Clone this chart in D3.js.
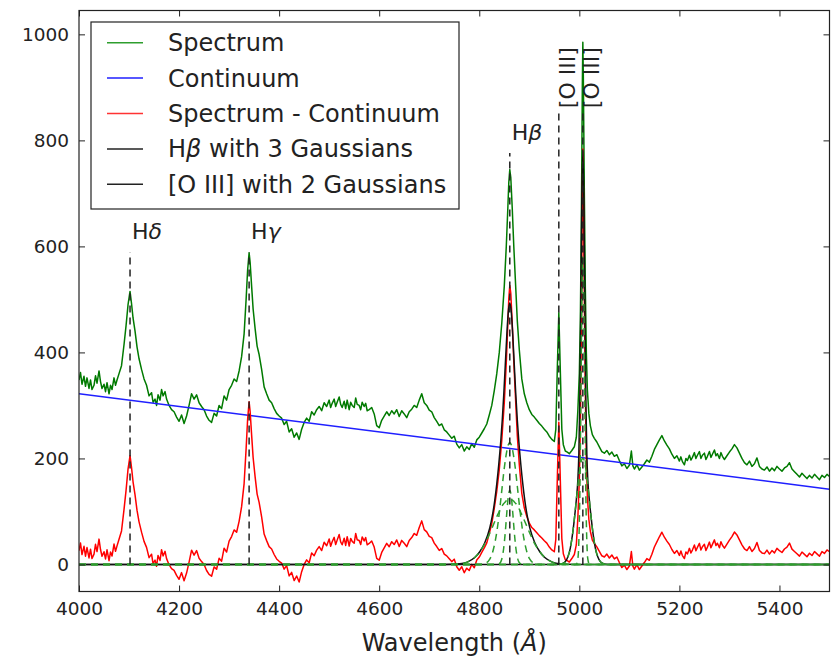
<!DOCTYPE html>
<html lang="en">
<head>
<meta charset="UTF-8">
<title>Spectrum and line fits</title>
<script src="https://d3js.org/d3.v7.min.js"></script>
<style>
    body { margin: 0; background: #fff; font-family: "DejaVu Sans", sans-serif; }
    .axis text { font-size: 18.5px; fill: #222; font-family: "DejaVu Sans", sans-serif; }
    .axis line { stroke: #222; stroke-width: 1; }
    .axis path { display: none; }
    .frame { fill: none; stroke: #222; stroke-width: 1.2; }
    .curve { fill: none; stroke-width: 1.5; stroke-linejoin: round; }
    .marker { stroke: #222; stroke-width: 1.5; stroke-dasharray: 7,5; }
    .legend text { font-size: 24px; fill: #222; }
    .linelabel { font-size: 22px; fill: #222; }
</style>
</head>
<body>
<div id="chart"></div>
<script>
// observed spectrum, [wavelength (A), flux]
const spectrum = [
    [4000,348],[4003,362],[4006,340],[4010,355],[4013,336],[4016,352],[4020,332],[4023,348],[4026,330],[4030,338],
    [4033,356],[4036,342],[4040,365],[4043,345],[4046,332],[4050,340],[4053,326],[4056,343],[4060,322],[4063,338],
    [4066,330],[4070,352],[4073,338],[4076,348],[4080,360],[4085,375],[4090,415],[4094,450],[4098,490],[4102,515],
    [4105,492],[4108,465],[4112,440],[4116,410],[4120,388],[4125,368],[4130,350],[4135,338],[4140,318],[4145,324],
    [4148,306],[4152,312],[4155,300],[4158,320],[4162,310],[4165,330],[4168,318],[4172,326],[4175,312],[4180,300],
    [4185,292],[4190,288],[4195,278],[4200,270],[4205,282],[4210,266],[4215,280],[4220,300],[4225,322],[4230,312],
    [4235,320],[4240,305],[4245,298],[4250,292],[4255,280],[4260,272],[4265,268],[4270,285],[4275,280],[4280,300],
    [4285,294],[4290,318],[4295,310],[4300,330],[4305,338],[4310,350],[4315,345],[4320,365],[4325,392],[4330,435],
    [4334,500],[4337,555],[4340,588],[4342,570],[4345,525],[4348,482],[4352,445],[4356,412],[4360,396],[4365,368],
    [4370,335],[4375,322],[4380,310],[4385,305],[4390,294],[4395,285],[4400,280],[4405,276],[4410,264],[4415,270],
    [4420,250],[4425,256],[4430,240],[4435,248],[4440,236],[4445,255],[4450,268],[4455,276],[4460,270],[4465,288],
    [4470,282],[4475,292],[4480,298],[4485,290],[4490,305],[4495,298],[4500,310],[4503,296],[4506,304],[4510,312],
    [4513,298],[4516,306],[4520,316],[4523,302],[4526,296],[4530,308],[4533,294],[4536,310],[4540,292],[4543,306],
    [4546,300],[4550,296],[4553,314],[4556,302],[4560,300],[4563,292],[4566,306],[4570,298],[4573,304],[4576,290],
    [4580,292],[4585,296],[4590,284],[4595,262],[4600,258],[4605,272],[4610,280],[4615,288],[4620,281],[4625,290],
    [4630,284],[4635,292],[4640,279],[4645,290],[4650,284],[4655,277],[4660,288],[4665,293],[4670,300],[4675,296],
    [4680,310],[4685,322],[4690,305],[4695,300],[4700,291],[4705,288],[4710,277],[4715,270],[4720,262],[4725,265],
    [4730,254],[4735,250],[4740,244],[4745,238],[4750,242],[4755,227],[4760,220],[4765,226],[4770,214],[4775,222],
    [4780,217],[4785,228],[4790,221],[4795,235],[4800,240],[4805,248],[4810,256],[4815,265],[4820,282],[4825,300],
    [4830,328],[4835,360],[4840,400],[4845,455],[4850,525],[4854,600],[4857,670],[4859,720],[4861,745],[4863,730],
    [4866,670],[4869,600],[4872,540],[4876,460],[4880,405],[4885,350],[4890,322],[4895,305],[4900,292],[4905,283],
    [4910,278],[4915,272],[4920,266],[4925,261],[4930,255],[4935,250],[4940,242],[4945,236],[4950,232],[4953,255],
    [4956,370],[4959,475],[4962,365],[4965,255],[4968,226],[4972,214],[4976,212],[4980,209],[4985,215],[4990,222],
    [4994,240],[4997,290],[5000,360],[5002,460],[5004,640],[5006,900],[5007,985],[5008,920],[5010,700],[5012,520],
    [5014,400],[5016,330],[5019,285],[5022,262],[5026,245],[5030,238],[5035,231],[5040,222],[5045,213],[5050,210],
    [5055,215],[5060,207],[5065,212],[5070,204],[5075,207],[5080,196],[5085,186],[5090,190],[5095,181],[5100,187],
    [5104,214],[5107,186],[5110,180],[5115,188],[5120,178],[5125,184],[5130,190],[5135,197],[5140,193],[5145,204],
    [5150,217],[5155,226],[5160,235],[5165,243],[5170,233],[5175,225],[5180,218],[5185,208],[5190,200],[5195,205],
    [5200,195],[5203,203],[5206,194],[5210,188],[5213,200],[5216,196],[5220,206],[5223,197],[5226,202],[5230,211],
    [5233,200],[5236,206],[5240,213],[5243,200],[5246,206],[5250,210],[5253,198],[5256,204],[5260,213],[5263,202],
    [5266,208],[5270,216],[5273,205],[5276,209],[5280,200],[5283,211],[5286,204],[5290,198],[5295,205],[5300,212],
    [5305,218],[5310,226],[5315,220],[5320,210],[5325,200],[5330,192],[5335,188],[5340,195],[5345,185],[5350,190],
    [5355,201],[5360,185],[5365,180],[5370,178],[5375,184],[5380,176],[5385,182],[5390,177],[5395,185],[5400,180],
    [5405,176],[5410,182],[5415,185],[5420,192],[5425,180],[5430,175],[5435,170],[5440,165],[5445,172],[5450,167],
    [5455,162],[5460,168],[5465,163],[5470,170],[5475,165],[5480,160],[5485,168],[5490,164],[5495,170],[5500,166]
];

// straight continuum, end points
const continuumWl = [4000, 5500];
const continuumFlux = [322, 142];

// H-beta fit: profile read at offsets (A) from the line centre, both sides alike
const hbCentre = 4861;
const hbOffsets = [0, 3, 6, 9, 12, 15, 18, 22, 26, 30, 35, 40, 50, 60, 70, 85, 100, 130];
const hbTotal   = [493, 476, 432, 376, 321, 273, 233, 189, 152, 121, 91, 69, 41, 24, 13, 4.5, 1.2, 0];
const hbNarrow  = [140, 128, 97, 61, 32, 14, 5, 1, 0, 0, 0, 0, 0, 0, 0, 0, 0, 0];
const hbMid     = [230, 226, 214, 196, 174, 148, 122, 89, 61, 40, 21, 10, 1.7, 0, 0, 0, 0, 0];
const hbBroad   = [123, 122, 121, 118, 115, 111, 106, 98, 90, 81, 70, 59, 39, 24, 13, 4.5, 1.2, 0];

// [O III] 5007 fit
const o3Centre = 5007;
const o3Offsets = [0, 2, 4, 6, 8, 10, 13, 16, 20, 25, 30, 40, 50];
const o3Total   = [780, 690, 493, 313, 208, 159, 122, 94, 61, 31, 14, 1.8, 0];
const o3Narrow  = [580, 492, 302, 133, 43, 10, 0.6, 0, 0, 0, 0, 0, 0];
const o3Broad   = [200, 198, 191, 180, 165, 149, 121, 94, 61, 31, 14, 1.8, 0];

// emission line markers
const markerWl  = [4102, 4340, 4861, 4959, 5007];
const markerTop = [589, 589, 776, 857, 857];

const xTicks = [4000, 4200, 4400, 4600, 4800, 5000, 5200, 5400];
const yTicks = [0, 200, 400, 600, 800, 1000];

const width = 831, height = 656;
const plot = {left: 79, right: 829.5, top: 10.5, bottom: 591.5};

const svg = d3.select("#chart").append("svg")
    .attr("width", width)
    .attr("height", height);

const x = d3.scaleLinear().domain([4000, 5500]).range([plot.left, plot.right]);
const y = d3.scaleLinear().domain([-51, 1045]).range([plot.bottom, plot.top]);

svg.append("clipPath").attr("id", "clip")
    .append("rect")
    .attr("x", plot.left).attr("y", plot.top)
    .attr("width", plot.right - plot.left).attr("height", plot.bottom - plot.top);

const layer = svg.append("g").attr("clip-path", "url(#clip)");

const line = d3.line().x(d => x(d[0])).y(d => y(d[1]));
const smooth = d3.line().x(d => x(d[0])).y(d => y(d[1])).curve(d3.curveMonotoneX);

// continuum at any wavelength, and the residual spectrum
const contAt = d3.scaleLinear().domain(continuumWl).range(continuumFlux);
const residual = spectrum.map(d => [d[0], d[1] - contAt(d[0])]);

// mirror a profile around its centre and pad to the full x range
function profile(centre, offsets, values) {
    const pts = [[4000, 0]];
    for (let i = offsets.length - 1; i > 0; i--) pts.push([centre - offsets[i], values[i]]);
    for (let i = 0; i < offsets.length; i++) pts.push([centre + offsets[i], values[i]]);
    pts.push([5500, 0]);
    return pts;
}

layer.append("path").datum(spectrum).attr("class", "curve").attr("stroke", "#007a00").attr("d", line);
layer.append("path").datum(continuumWl.map((w, i) => [w, continuumFlux[i]]))
    .attr("class", "curve").attr("stroke", "#1f1fff").attr("d", line);
layer.append("path").datum(residual).attr("class", "curve").attr("stroke", "#ff0000").attr("d", line);

[[hbCentre, hbOffsets, hbTotal], [o3Centre, o3Offsets, o3Total]].forEach(f => {
    layer.append("path").datum(profile(f[0], f[1], f[2]))
        .attr("class", "curve").attr("stroke", "#111").attr("d", smooth);
});

[[hbCentre, hbOffsets, hbNarrow], [hbCentre, hbOffsets, hbMid], [hbCentre, hbOffsets, hbBroad],
 [o3Centre, o3Offsets, o3Narrow], [o3Centre, o3Offsets, o3Broad]].forEach(f => {
    layer.append("path").datum(profile(f[0], f[1], f[2]))
        .attr("class", "curve").attr("stroke", "#2e9e2e")
        .attr("stroke-dasharray", "7,5").attr("d", smooth);
});

layer.selectAll(".marker").data(markerWl).enter().append("line")
    .attr("class", "marker")
    .attr("x1", d => x(d)).attr("x2", d => x(d))
    .attr("y1", y(0)).attr("y2", (d, i) => y(markerTop[i]));

// line labels
const greek = [["H", "δ"], ["H", "γ"], ["H", "β"]];
greek.forEach((g, i) => {
    const t = svg.append("text").attr("class", "linelabel")
        .attr("x", x(markerWl[i]) + 2)
        .attr("y", y(markerTop[i]) - 13);
    t.append("tspan").text(g[0]);
    t.append("tspan").style("font-style", "italic").text(g[1]);
});
[3, 4].forEach(i => {
    svg.append("text").attr("class", "linelabel")
        .attr("transform", `translate(${x(markerWl[i]) + 16},${y(markerTop[i]) - 2}) rotate(-90)`)
        .text("[O III]");
});

// axes, ticks pointing inward
svg.append("g").attr("class", "axis")
    .attr("transform", `translate(0,${plot.bottom})`)
    .call(d3.axisBottom(x).tickValues(xTicks).tickSizeInner(-6).tickSizeOuter(0).tickPadding(10).tickFormat(d3.format("d")));
svg.append("g").attr("class", "axis")
    .attr("transform", `translate(0,${plot.top})`)
    .call(d3.axisTop(x).tickValues(xTicks).tickSizeInner(-6).tickSizeOuter(0).tickFormat(""));
svg.append("g").attr("class", "axis")
    .attr("transform", `translate(${plot.left},0)`)
    .call(d3.axisLeft(y).tickValues(yTicks).tickSizeInner(-6).tickSizeOuter(0).tickPadding(10).tickFormat(d3.format("d")));
svg.append("g").attr("class", "axis")
    .attr("transform", `translate(${plot.right},0)`)
    .call(d3.axisRight(y).tickValues(yTicks).tickSizeInner(-6).tickSizeOuter(0).tickFormat(""));

svg.append("rect").attr("class", "frame")
    .attr("x", plot.left).attr("y", plot.top)
    .attr("width", plot.right - plot.left).attr("height", plot.bottom - plot.top);

const xl = svg.append("text")
    .attr("x", (plot.left + plot.right) / 2).attr("y", 651)
    .attr("text-anchor", "middle")
    .style("font-size", "24px").style("fill", "#222");
xl.append("tspan").text("Wavelength (");
xl.append("tspan").style("font-style", "italic").text("Å");
xl.append("tspan").text(")");

// legend
const legendItems = [
    {label: ["Spectrum"], color: "#2e9e2e"},
    {label: ["Continuum"], color: "#1f1fff"},
    {label: ["Spectrum - Continuum"], color: "#ff3333"},
    {label: ["H", "β", " with 3 Gaussians"], color: "#222"},
    {label: ["[O III] with 2 Gaussians"], color: "#222"}
];
const legend = svg.append("g").attr("class", "legend");
legend.append("rect")
    .attr("x", 91).attr("y", 22).attr("width", 368).attr("height", 187)
    .attr("fill", "#fff").attr("stroke", "#222").attr("stroke-width", 1.2);
legendItems.forEach((d, i) => {
    const cy = 42.7 + i * 35.4;
    legend.append("line")
        .attr("x1", 107).attr("x2", 143).attr("y1", cy).attr("y2", cy)
        .attr("stroke", d.color).attr("stroke-width", 1.5);
    const t = legend.append("text").attr("x", 168).attr("y", cy + 8.5);
    d.label.forEach((s, k) => {
        const ts = t.append("tspan").text(s);
        if (k === 1) ts.style("font-style", "italic");
    });
});
</script>
</body>
</html>
